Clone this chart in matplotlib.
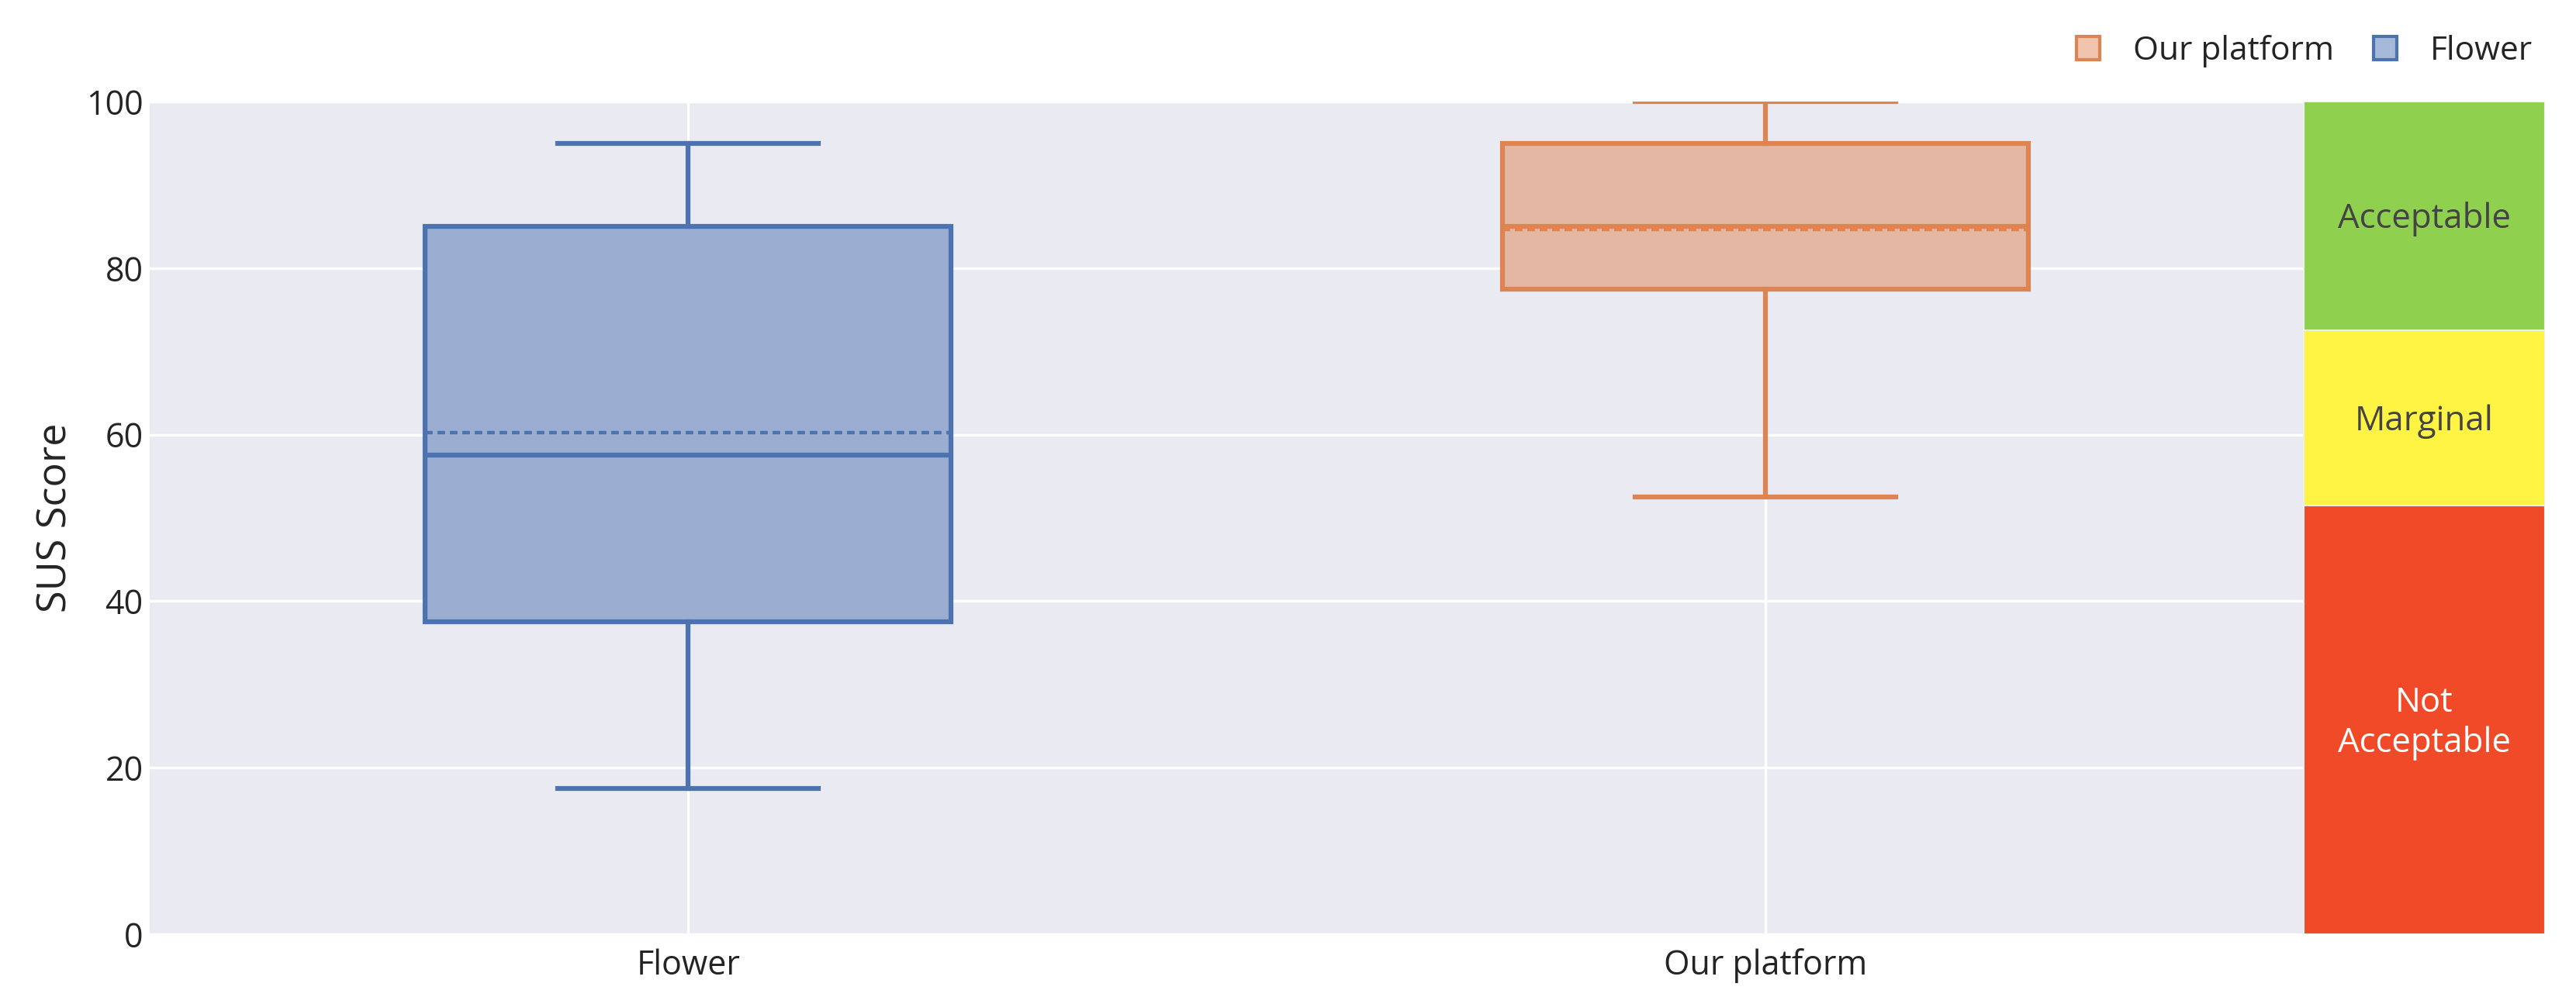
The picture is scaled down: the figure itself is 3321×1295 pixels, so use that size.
import matplotlib
matplotlib.use("Agg")
import matplotlib.pyplot as plt
from matplotlib.patches import Patch, Rectangle

# box statistics
groups = ["Flower", "Our platform"]
q1 = [37.5, 77.5]
median = [57.5, 85.0]
q3 = [85.0, 95.0]
whisker_low = [17.5, 52.5]
whisker_high = [95.0, 100.0]
mean = [60.2, 84.6]
colors = ["#4C72B0", "#DD8452"]
fills = ["#9BAED1", "#E3B7A2"]

# SUS acceptability bands
band_labels = ["Not\nAcceptable", "Marginal", "Acceptable"]
band_low = [0, 51.5, 72.5]
band_high = [51.5, 72.5, 100]
band_colors = ["#F04A28", "#FFF343", "#8FD14F"]
band_text_colors = ["white", "#444444", "#444444"]

plt.rcParams["font.family"] = ["Open Sans", "DejaVu Sans"]

fig = plt.figure(figsize=(33.21, 12.95), dpi=100)
ax = fig.add_axes([193 / 3321, 1 - 1205 / 1295, (3281 - 193) / 3321, (1205 - 131) / 1295])
ax.set_facecolor("#EAEAF2")
for s in ax.spines.values():
    s.set_visible(False)
ax.set_axisbelow(True)
ax.grid(True, color="white", linewidth=2.4)

positions = list(range(len(groups)))
for i, g in enumerate(groups):
    stats = [{"label": g, "q1": q1[i], "med": median[i], "q3": q3[i],
              "whislo": whisker_low[i], "whishi": whisker_high[i], "mean": mean[i]}]
    ax.bxp(stats, positions=[i], widths=0.488, capwidths=0.242, patch_artist=True,
           showmeans=True, meanline=True, showfliers=False,
           boxprops=dict(facecolor=fills[i], edgecolor=colors[i], linewidth=4.5),
           medianprops=dict(color=colors[i], linewidth=4.5),
           whiskerprops=dict(color=colors[i], linewidth=4.5),
           capprops=dict(color=colors[i], linewidth=4.5),
           meanprops=dict(color=colors[i], linewidth=3.2, linestyle=(0, (2.2, 1.4))))

ax.set_xlim(-0.5, 1.724)
ax.set_ylim(0, 100)

# acceptability bands on the right
for lab, lo, hi, c, tc in zip(band_labels, band_low, band_high, band_colors, band_text_colors):
    ax.add_patch(Rectangle((1.5, lo), 1.724 - 1.5, hi - lo, facecolor=c,
                           edgecolor="#EEEEEE", linewidth=1.5, zorder=5))
    ax.text((1.5 + 1.724) / 2, (lo + hi) / 2 - 0.4, lab, ha="center", va="center",
            fontsize=31.5, color=tc, zorder=6, linespacing=1.2)

ax.set_xticks(positions)
ax.set_xticklabels(groups)
ax.set_yticks([0, 20, 40, 60, 80, 100])
ax.tick_params(axis="both", length=0, labelsize=31, labelcolor="#242424")
ax.tick_params(axis="x", pad=13)
ax.tick_params(axis="y", pad=6)
ax.set_ylabel("SUS Score", fontsize=37.5, color="#242424")
ax.yaxis.set_label_coords(-0.031, 0.5)

handles = [Patch(facecolor="#F1C4AE", edgecolor=colors[1], linewidth=3, label="Our platform"),
           Patch(facecolor="#A6B9DA", edgecolor=colors[0], linewidth=3, label="Flower")]
fig.legend(handles=handles, loc="center right", bbox_to_anchor=(0.9945, 0.949), ncol=2,
           frameon=False, fontsize=30.5, handlelength=0.72, handleheight=0.72,
           handletextpad=1.0, columnspacing=1.2, labelcolor="#242424")

fig.savefig("out.png", dpi=100)
